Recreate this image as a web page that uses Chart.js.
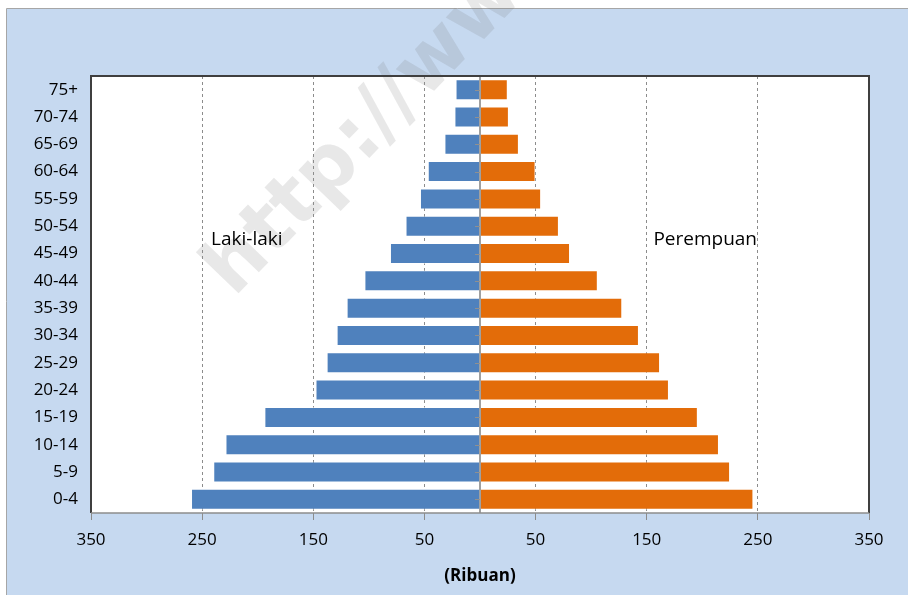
<!DOCTYPE html>
<html>
<head>
<meta charset="utf-8">
<script src="https://cdn.jsdelivr.net/npm/chart.js@4/dist/chart.umd.min.js"></script>
<style>
  html, body { margin: 0; padding: 0; background: #fff; }
  #wrap { width: 908px; height: 595px; position: relative; }
</style>
</head>
<body>
<div id="wrap"><canvas id="pyramid"></canvas></div>
<script>
const ageGroups = ["0-4", "5-9", "10-14", "15-19", "20-24", "25-29", "30-34", "35-39",
                   "40-44", "45-49", "50-54", "55-59", "60-64", "65-69", "70-74", "75+"];
const male   = [260, 240, 229, 194, 148, 138, 129, 120, 104, 81, 67, 54, 47, 32, 23, 22];
const female = [246, 225, 215, 196, 170, 162, 143, 128, 106, 81, 71, 55, 50, 35, 26, 25];
const xTicks = [-350, -250, -150, -50, 50, 150, 250, 350];

const FONT = "'Open Sans', 'Liberation Sans', sans-serif";

/* background, frame, watermark, borders and side labels */
const decor = {
  id: "decor",
  beforeDraw(chart) {
    const c = chart.ctx, a = chart.chartArea;
    c.save();
    c.fillStyle = "#ffffff";
    c.fillRect(0, 0, chart.width, chart.height);
    c.fillStyle = "#c6d9f0";
    c.fillRect(7, 8, chart.width - 7, chart.height - 8);
    c.strokeStyle = "#a6a6a6";
    c.lineWidth = 1;
    c.beginPath();
    c.moveTo(6.5, chart.height);
    c.lineTo(6.5, 8.5);
    c.lineTo(chart.width, 8.5);
    c.stroke();
    c.fillStyle = "#ffffff";
    c.fillRect(a.left, a.top, a.right - a.left, a.bottom - a.top);

    // watermark
    c.translate(234, 298);
    c.rotate(-46 * Math.PI / 180);
    c.font = "bold 78px 'DejaVu Sans', 'Liberation Sans', sans-serif";
    c.fillStyle = "rgba(110,110,110,0.16)";
    c.textBaseline = "alphabetic";
    c.fillText("http://www.", 0, 0);
    c.restore();
  },
  afterDatasetsDraw(chart) {
    const c = chart.ctx, a = chart.chartArea;
    const x = chart.scales.x, y = chart.scales.y;
    const x0 = x.getPixelForValue(0);
    c.save();
    // centre axis line with tiny category ticks
    c.strokeStyle = "#a0a0a0";
    c.lineWidth = 2;
    c.beginPath();
    c.moveTo(x0, a.top);
    c.lineTo(x0, a.bottom);
    c.stroke();
    c.lineWidth = 1;
    c.strokeStyle = "#909090";
    ageGroups.forEach((g, i) => {
      const py = Math.round(y.getPixelForValue(i)) + 0.5;
      c.beginPath();
      c.moveTo(x0 - 5, py);
      c.lineTo(x0, py);
      c.stroke();
    });
    // plot border
    c.strokeStyle = "#3f3f3f";
    c.lineWidth = 2;
    c.beginPath();
    c.moveTo(a.left, a.bottom);
    c.lineTo(a.left, a.top);
    c.lineTo(a.right, a.top);
    c.lineTo(a.right, a.bottom);
    c.stroke();
    c.strokeStyle = "#8c8c8c";
    c.lineWidth = 1.5;
    c.beginPath();
    c.moveTo(a.left, a.bottom);
    c.lineTo(a.right, a.bottom);
    c.stroke();
    // side labels
    c.font = "19px " + FONT;
    c.fillStyle = "#000";
    c.textBaseline = "middle";
    const ly = y.getPixelForValue(9.5);
    c.textAlign = "left";
    c.fillText("Laki-laki", x.getPixelForValue(-242), ly);
    c.fillText("Perempuan", x.getPixelForValue(156), ly);
    c.restore();
  }
};

new Chart(document.getElementById("pyramid"), {
  type: "bar",
  data: {
    labels: ageGroups,
    datasets: [
      {
        label: "Laki-laki",
        data: male.map(v => -v),
        backgroundColor: "#4f81bd",
        borderColor: "rgba(255,255,255,0.5)",
        borderWidth: 1,
        borderSkipped: false
      },
      {
        label: "Perempuan",
        data: female,
        backgroundColor: "#e36c09",
        borderColor: "rgba(255,255,255,0.5)",
        borderWidth: 1,
        borderSkipped: false
      }
    ]
  },
  options: {
    indexAxis: "y",
    responsive: true,
    maintainAspectRatio: false,
    animation: false,
    layout: { padding: { top: 76, right: 39, left: 0, bottom: 0 } },
    datasets: { bar: { barPercentage: 0.77, categoryPercentage: 1 } },
    plugins: {
      legend: { display: false },
      tooltip: { enabled: false }
    },
    scales: {
      x: {
        stacked: true,
        min: -350,
        max: 350,
        afterBuildTicks: s => { s.ticks = xTicks.map(v => ({ value: v })); },
        afterFit: s => { s.height = 82; },
        border: { display: false, dash: [3, 3] },
        grid: {
          color: ctx => (ctx.tick && Math.abs(ctx.tick.value) === 350) ? "rgba(0,0,0,0)" : "#8c8c8c",
          tickColor: "#8c8c8c",
          tickBorderDash: [],
          tickLength: 7
        },
        ticks: {
          callback: v => Math.abs(v),
          color: "#000",
          padding: 10,
          maxRotation: 0,
          font: { family: FONT, size: 17 }
        },
        title: {
          display: true,
          text: "(Ribuan)",
          color: "#000",
          font: { family: FONT, size: 17, weight: "bold" },
          padding: { top: 4, bottom: 9 }
        }
      },
      y: {
        stacked: true,
        reverse: true,
        afterFit: s => { s.width = 91; },
        border: { display: false },
        grid: { display: false, drawTicks: false },
        ticks: {
          color: "#000",
          padding: 13,
          autoSkip: false,
          font: { family: FONT, size: 17 }
        }
      }
    }
  },
  plugins: [decor]
});
</script>
</body>
</html>
